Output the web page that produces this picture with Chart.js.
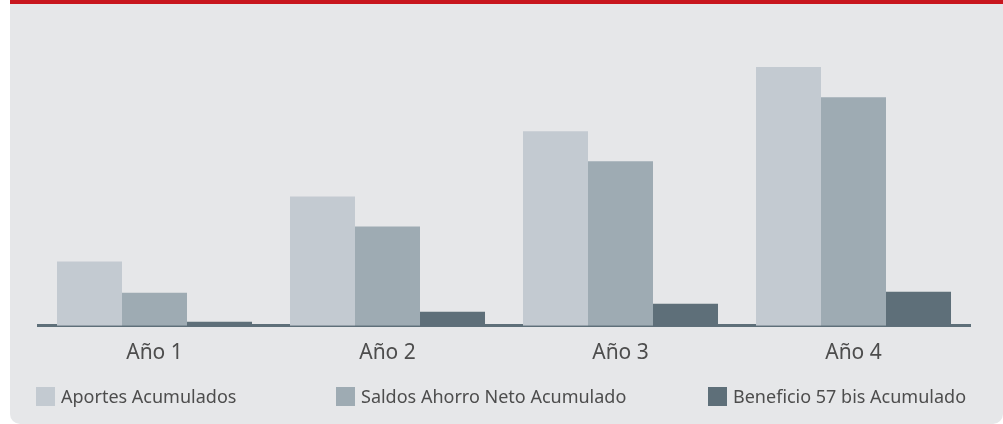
<!DOCTYPE html>
<html>
<head>
<meta charset="utf-8">
<script src="https://cdn.jsdelivr.net/npm/chart.js@4"></script>
<style>
  html, body { margin: 0; padding: 0; background: #ffffff; }
  #panel {
    position: absolute; left: 10px; top: 0; width: 993px; height: 420px;
    background: #e6e7e9; border-top: 4px solid #c8161e;
    border-bottom-left-radius: 10px; border-bottom-right-radius: 10px;
  }
  #wrap { position: absolute; left: 0; top: 0; width: 1003px; height: 424px; }
  #legend { position: absolute; left: 0; top: 387px; width: 1003px; height: 20px;
    font-family: 'Noto Sans', 'Open Sans', sans-serif; font-size: 18px; color: #4d4d4d; }
  .item { position: absolute; top: 0; height: 19px; line-height: 19px; white-space: nowrap; }
  .item span.box { display: inline-block; width: 19px; height: 19px; vertical-align: top; margin-right: 6px; }
</style>
</head>
<body>
<div id="panel"></div>
<div id="wrap"><canvas id="ahorroChart" width="1003" height="424"></canvas></div>
<div id="legend"></div>
<script>
// Categories and series (units = bar height)
const years = ['Año 1', 'Año 2', 'Año 3', 'Año 4'];
const seriesNames = ['Aportes Acumulados', 'Saldos Ahorro Neto Acumulado', 'Beneficio 57 bis Acumulado'];
const aportes = [64, 129, 194, 258];
const saldos = [33, 99, 164, 228];
const beneficio = [4, 14, 22, 34];

const colors = ['#c3cad1', '#9eabb3', '#5e6f79'];
const textColor = '#4d4d4d';
const fontFamily = "'Noto Sans', 'Open Sans', sans-serif";

const ctx = document.getElementById('ahorroChart').getContext('2d');

const chart = new Chart(ctx, {
    type: 'bar',
    data: {
        labels: years,
        datasets: [
            { label: seriesNames[0], data: aportes, backgroundColor: colors[0] },
            { label: seriesNames[1], data: saldos, backgroundColor: colors[1] },
            { label: seriesNames[2], data: beneficio, backgroundColor: colors[2] }
        ]
    },
    options: {
        responsive: false,
        animation: false,
        categoryPercentage: 0.837,
        barPercentage: 1.0,
        layout: {
            padding: { left: 38, right: 33, top: 35, bottom: 51 }
        },
        scales: {
            x: {
                grid: { display: false },
                border: { display: true, color: '#5e6f79', width: 3 },
                ticks: {
                    color: textColor,
                    font: { family: fontFamily, size: 21 },
                    padding: 7
                }
            },
            y: {
                display: false,
                min: 0,
                max: 290
            }
        },
        plugins: {
            legend: { display: false },
            tooltip: { enabled: false }
        }
    }
});

// html legend, items spread across the panel like the original
const legendLeft = [36, 336, 708];
const legendEl = document.getElementById('legend');
chart.data.datasets.forEach((ds, i) => {
    const item = document.createElement('div');
    item.className = 'item';
    item.style.left = legendLeft[i] + 'px';
    item.innerHTML = '<span class="box" style="background:' + ds.backgroundColor + '"></span>' + ds.label;
    legendEl.appendChild(item);
});
</script>
</body>
</html>
